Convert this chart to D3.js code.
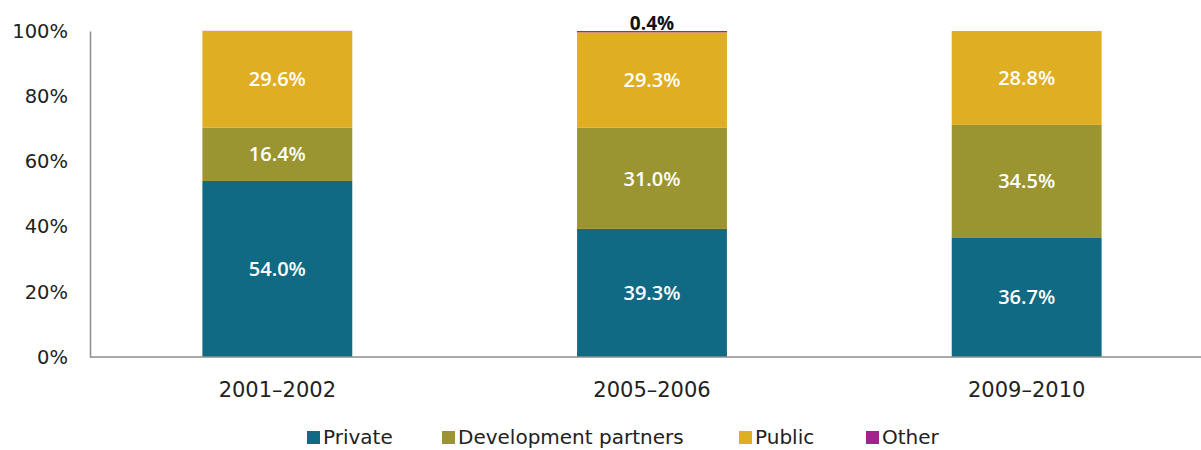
<!DOCTYPE html>
<html>
<head>
<meta charset="utf-8">
<script src="https://cdn.jsdelivr.net/npm/d3@7"></script>
<style>
  body { margin: 0; background: #fff; }
  svg { display: block; font-family: "DejaVu Sans", sans-serif; }
</style>
</head>
<body>
<script>
var categories = ["2001\u20132002", "2005\u20132006", "2009\u20132010"];
var seriesNames = ["Private", "Development partners", "Public", "Other"];
var privateVals = [54.0, 39.3, 36.7];
var devVals = [16.4, 31.0, 34.5];
var publicVals = [29.6, 29.3, 28.8];
var otherVals = [0.04, 0.4, 0];
var yTicks = [0, 20, 40, 60, 80, 100];
var colors = ["#106a84", "#9a9431", "#e0ae22", "#a3238e"];

var width = 1201, height = 450;
var margin = {top: 31, left: 90, bottom: 93};

var rows = categories.map(function(c, i) {
  return {cat: c, Private: privateVals[i], "Development partners": devVals[i], Public: publicVals[i], Other: otherVals[i]};
});

var svg = d3.select("body").append("svg")
  .attr("width", width)
  .attr("height", height);

var x = d3.scaleBand()
  .domain(categories)
  .range([margin.left, 1214])
  .paddingInner(0.6)
  .paddingOuter(0.3);

var y = d3.scaleLinear()
  .domain([0, 100])
  .range([height - margin.bottom, margin.top]);

var stack = d3.stack().keys(seriesNames)(rows);

// bars
var layers = svg.append("g").selectAll("g")
  .data(stack)
  .enter().append("g")
  .attr("fill", function(d, i) { return colors[i]; });

layers.selectAll("rect")
  .data(function(d) { return d; })
  .enter().append("rect")
  .attr("x", function(d) { return x(d.data.cat); })
  .attr("width", x.bandwidth())
  .attr("y", function(d) { return y(d[1]); })
  .attr("height", function(d) { return Math.max(0, y(d[0]) - y(d[1])); });

// labels inside the big segments
stack.slice(0, 3).forEach(function(layer) {
  svg.append("g").selectAll("text")
    .data(layer)
    .enter().append("text")
    .attr("x", function(d) { return x(d.data.cat) + x.bandwidth() / 2; })
    .attr("y", function(d) { return (y(d[0]) + y(d[1])) / 2; })
    .attr("dy", "0.36em")
    .attr("text-anchor", "middle")
    .attr("fill", "#fff")
    .attr("font-family", "\"Open Sans\", sans-serif")
    .attr("font-weight", 600)
    .attr("font-size", "20px")
    .text(function(d) { return (d[1] - d[0]).toFixed(1) + "%"; });
});

// the small "Other" share that is visible
svg.append("g").selectAll("text")
  .data(stack[3].filter(function(d) { return d[1] - d[0] >= 0.1; }))
  .enter().append("text")
  .attr("x", function(d) { return x(d.data.cat) + x.bandwidth() / 2; })
  .attr("y", function(d) { return y(d[1]) - 1; })
  .attr("text-anchor", "middle")
  .attr("fill", "#111")
  .attr("font-family", "\"Open Sans\", sans-serif")
  .attr("font-weight", "bold")
  .attr("font-size", "19px")
  .text(function(d) { return (d[1] - d[0]).toFixed(1) + "%"; });

// axes
var yAxis = svg.append("g")
  .attr("transform", "translate(" + margin.left + ",0)")
  .call(d3.axisLeft(y).tickValues(yTicks).tickSize(0).tickPadding(22)
    .tickFormat(function(d) { return d + "%"; }));
yAxis.select(".domain").attr("stroke", "#8c8c8c").attr("stroke-width", 1.5);
yAxis.selectAll("text").attr("font-size", "19.5px").attr("fill", "#222")
  .attr("font-family", "\"DejaVu Sans\", sans-serif");

svg.append("line")
  .attr("x1", margin.left).attr("x2", width)
  .attr("y1", y(0)).attr("y2", y(0))
  .attr("stroke", "#8c8c8c").attr("stroke-width", 1.5);

svg.append("g").selectAll("text")
  .data(categories)
  .enter().append("text")
  .attr("x", function(d) { return x(d) + x.bandwidth() / 2; })
  .attr("y", 397)
  .attr("text-anchor", "middle")
  .attr("font-size", "21px")
  .attr("fill", "#222")
  .text(function(d) { return d; });

// legend
var legendX = [307, 442, 739, 866];
var legend = svg.append("g").selectAll("g")
  .data(seriesNames)
  .enter().append("g")
  .attr("transform", function(d, i) { return "translate(" + legendX[i] + ",444)"; });
legend.append("rect")
  .attr("x", 0).attr("y", -13).attr("width", 13).attr("height", 13)
  .attr("fill", function(d, i) { return colors[i]; });
legend.append("text")
  .attr("x", 16).attr("y", 0)
  .attr("font-size", "20px")
  .attr("fill", "#222")
  .text(function(d) { return d; });
</script>
</body>
</html>
